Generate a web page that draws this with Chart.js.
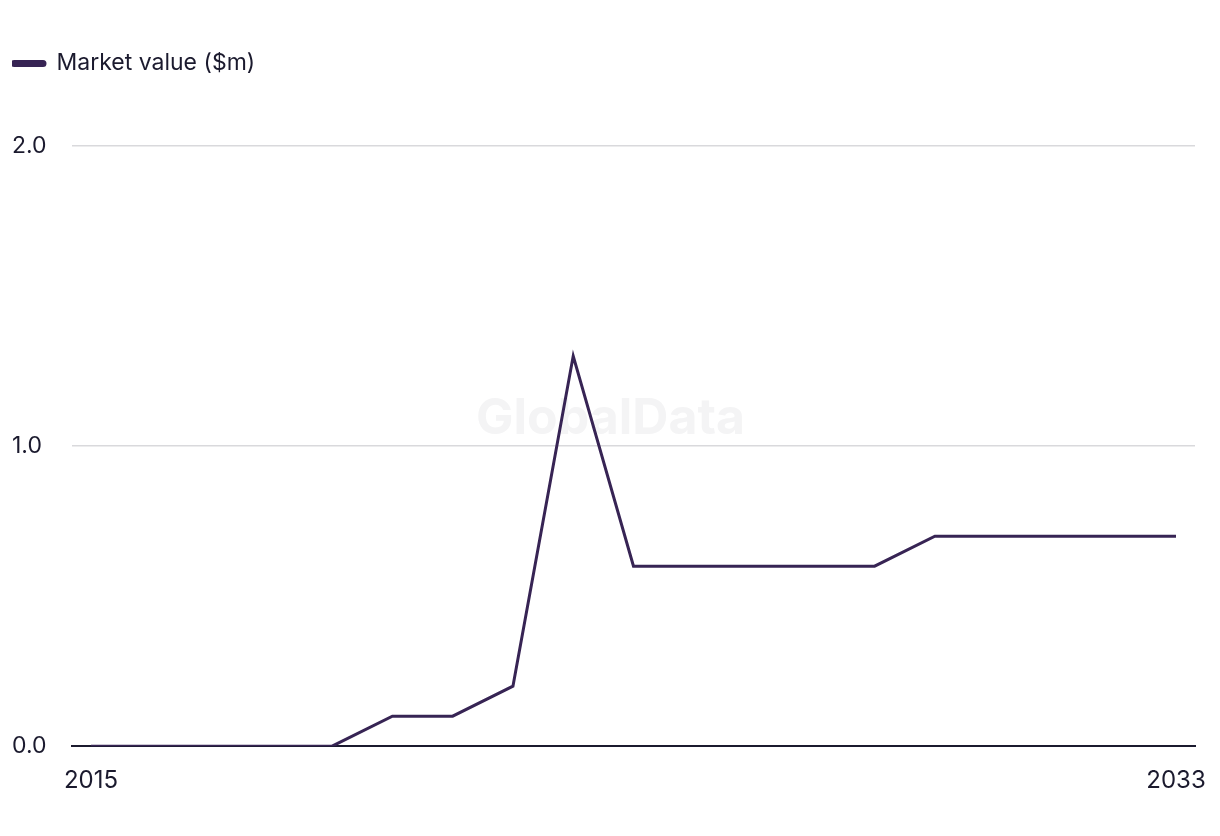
<!DOCTYPE html>
<html>
<head>
<meta charset="utf-8">
<script src="https://cdn.jsdelivr.net/npm/chart.js@4"></script>
<style>
  html, body { margin: 0; padding: 0; background: #fff; }
  #wrap { width: 1220px; height: 836px; }
</style>
</head>
<body>
<div id="wrap"><canvas id="marketChart"></canvas></div>
<script>
const years = [2015, 2016, 2017, 2018, 2019, 2020, 2021, 2022, 2023, 2024,
               2025, 2026, 2027, 2028, 2029, 2030, 2031, 2032, 2033];
const marketValue = [0, 0, 0, 0, 0, 0.1, 0.1, 0.2, 1.3, 0.6,
                     0.6, 0.6, 0.6, 0.6, 0.7, 0.7, 0.7, 0.7, 0.7];
const xTickYears = [2015, 2033];
const yTicks = [0, 1, 2];

const lineColor = '#372454';
const textColor = '#1b1a2e';
const fontFamily = 'Inter, "Noto Sans", sans-serif';

// faint watermark behind the line
const watermark = {
    id: 'watermark',
    beforeDatasetsDraw(chart) {
        const { ctx, chartArea } = chart;
        ctx.save();
        ctx.font = 'bold 50px ' + fontFamily;
        ctx.fillStyle = '#f4f4f5';
        ctx.textAlign = 'center';
        ctx.textBaseline = 'middle';
        ctx.fillText('GlobalData', (chartArea.left + chartArea.right) / 2 - 23, (chartArea.top + chartArea.bottom) / 2 - 27);
        ctx.restore();
    }
};

// give the legend some extra room below it
const legendSpace = {
    id: 'legendSpace',
    beforeInit(chart) {
        const fit = chart.legend.fit;
        chart.legend.fit = function () {
            fit.bind(chart.legend)();
            this.height = 94;
        };
    }
};

const ctx = document.getElementById('marketChart').getContext('2d');
new Chart(ctx, {
    type: 'line',
    data: {
        datasets: [{
            label: 'Market value ($m)',
            data: years.map((y, i) => ({ x: y, y: marketValue[i] })),
            borderColor: lineColor,
            backgroundColor: lineColor,
            borderWidth: 3,
            pointRadius: 0,
            tension: 0
        }]
    },
    options: {
        responsive: true,
        maintainAspectRatio: false,
        animation: false,
        layout: { padding: { left: 12, right: 25, top: 52, bottom: 29 } },
        plugins: {
            legend: {
                position: 'top',
                align: 'start',
                labels: {
                    color: textColor,
                    font: { family: fontFamily, size: 23 },
                    boxWidth: 33,
                    boxHeight: 4,
                    useBorderRadius: true,
                    borderRadius: 2,
                    padding: 0
                }
            },
            tooltip: { enabled: false }
        },
        scales: {
            x: {
                type: 'linear',
                min: 2014.685,
                max: 2033.315,
                afterBuildTicks(scale) {
                    scale.ticks = xTickYears.map(v => ({ value: v }));
                },
                grid: { display: false },
                border: { display: true, color: textColor, width: 2 },
                ticks: {
                    color: textColor,
                    font: { family: fontFamily, size: 24 },
                    padding: 12,
                    maxRotation: 0,
                    callback: v => String(v)
                }
            },
            y: {
                min: 0,
                max: 2,
                afterBuildTicks(scale) {
                    scale.ticks = yTicks.map(v => ({ value: v }));
                },
                afterFit(scale) { scale.width = 60; },
                grid: {
                    drawTicks: false,
                    color: c => c.tick && c.tick.value === 0 ? textColor : '#d9d9dc',
                    lineWidth: c => c.tick && c.tick.value === 0 ? 2 : 1.5
                },
                border: { display: false },
                ticks: {
                    color: textColor,
                    font: { family: fontFamily, size: 23 },
                    crossAlign: 'far',
                    padding: 0,
                    callback: v => v.toFixed(1)
                }
            }
        }
    },
    plugins: [watermark, legendSpace]
});
</script>
</body>
</html>
